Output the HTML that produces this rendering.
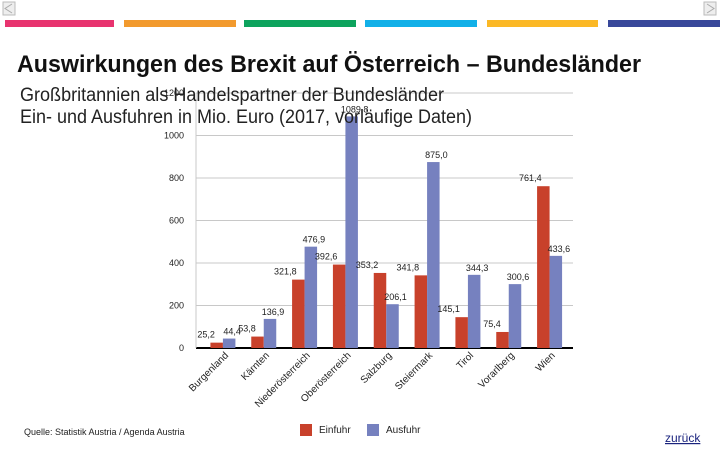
<!DOCTYPE html>
<html><head><meta charset="utf-8"><style>
body{margin:0;background:#fff;}
svg{display:block;font-family:"Liberation Sans",sans-serif;}
</style></head><body>
<svg id="c" width="720" height="450" viewBox="0 0 720 450">
<g><rect x="3" y="2" width="12" height="13" fill="#eee" stroke="#bbb"/><path d="M12 4 L5 8.5 L12 13" fill="none" stroke="#aaa"/></g>
<g><rect x="704" y="2" width="12" height="13" fill="#eee" stroke="#bbb"/><path d="M707 4 L714 8.5 L707 13" fill="none" stroke="#aaa"/></g>
<rect x="5" y="20" width="109" height="7" fill="#e8336f"/>
<rect x="124" y="20" width="112" height="7" fill="#f29a2e"/>
<rect x="244" y="20" width="112" height="7" fill="#0da35d"/>
<rect x="365" y="20" width="112" height="7" fill="#12b0e8"/>
<rect x="487" y="20" width="111" height="7" fill="#fbb825"/>
<rect x="608" y="20" width="112" height="7" fill="#38489a"/>
<text x="17" y="72" font-size="24" font-weight="bold" textLength="624" lengthAdjust="spacingAndGlyphs" fill="#111">Auswirkungen des Brexit auf Österreich – Bundesländer</text>
<g id="plot"></g>
<text x="20" y="101" font-size="19" textLength="424" lengthAdjust="spacingAndGlyphs" fill="#222">Großbritannien als Handelspartner der Bundesländer</text>
<text x="20" y="123" font-size="19" textLength="452" lengthAdjust="spacingAndGlyphs" fill="#222">Ein- und Ausfuhren in Mio. Euro (2017, vorläufige Daten)</text>
<text x="24" y="435" font-size="9" fill="#222">Quelle: Statistik Austria / Agenda Austria</text>
<rect x="300" y="424" width="12" height="12" fill="#c8412b"/>
<text x="319" y="433" font-size="10" fill="#222">Einfuhr</text>
<rect x="367" y="424" width="12" height="12" fill="#7681bf"/>
<text x="386" y="433" font-size="10" fill="#222">Ausfuhr</text>
<text x="665" y="442" font-size="12" fill="#1a237e" text-decoration="underline">zurück</text>
</svg>
<script>
const categories=["Burgenland","Kärnten","Niederösterreich","Oberösterreich","Salzburg","Steiermark","Tirol","Vorarlberg","Wien"];
const einfuhr=[25.2,53.8,321.8,392.6,353.2,341.8,145.1,75.4,761.4];
const ausfuhr=[44.4,136.9,476.9,1089.8,206.1,875.0,344.3,300.6,433.6];
const ticks=[0,200,400,600,800,1000,1200];
const NS="http://www.w3.org/2000/svg";
const g=document.getElementById('plot');
const X0=202.5,X1=570,Y0=348,PX=0.2125;
const y=v=>Y0-v*PX;
const bw=(X1-X0)/categories.length;
const cx=i=>X0+bw*(i+0.5);
function mk(t,a){const e=document.createElementNS(NS,t);for(const k in a)e.setAttribute(k,a[k]);g.appendChild(e);return e;}
const fmt=v=>v.toFixed(1).replace('.',',');
ticks.forEach(t=>{
  const l=mk('line',{x1:196,x2:573,y1:y(t),y2:y(t),stroke:t===0?'#000':'#c8c8c8','stroke-width':t===0?2:1});
  
  
  const tx=mk('text',{x:184,y:y(t)+3,'font-size':9,'text-anchor':'end',fill:'#222'});
  tx.textContent=t;
  
  
});
const ax=mk('line',{x1:196,x2:196,y1:y(1200),y2:Y0,stroke:'#c8c8c8'});


categories.forEach((c,i)=>{
  const w=12.5;
  const r=mk('rect',{x:cx(i)-w,y:y(einfuhr[i]),width:w,height:einfuhr[i]*PX,fill:'#c8412b'});
  
  
  const b=mk('rect',{x:cx(i),y:y(ausfuhr[i]),width:w,height:ausfuhr[i]*PX,fill:'#7681bf'});
  
  
  const t1=mk('text',{x:cx(i)-8,y:y(einfuhr[i])-5,'font-size':9,'text-anchor':'end',fill:'#222'});
  t1.textContent=fmt(einfuhr[i]);
  
  
  const t2=mk('text',{x:cx(i)+w/2+3,y:y(ausfuhr[i])-4,'font-size':9,'text-anchor':'middle',fill:'#222'});
  t2.textContent=fmt(ausfuhr[i]);
  
  
  const xl=mk('text',{x:0,y:0,'font-size':10,'text-anchor':'end',fill:'#222',transform:`translate(${cx(i)+6},${Y0+8}) rotate(-45)`});
  xl.textContent=c;
  
  
});
</script>
</body></html>
